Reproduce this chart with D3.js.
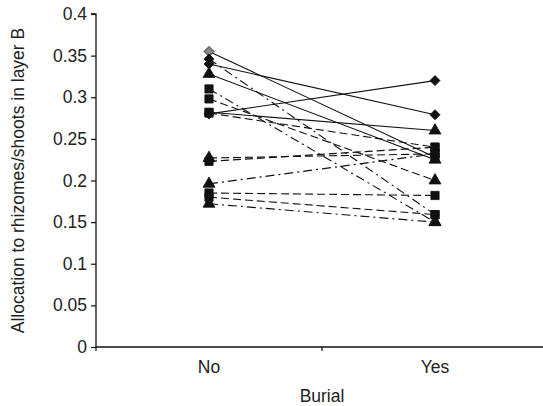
<!DOCTYPE html>
<html><head><meta charset="utf-8">
<script src="https://cdn.jsdelivr.net/npm/d3@7"></script>
<style>body{margin:0;background:#fff}svg{display:block}text{font-family:"Liberation Sans",Arial,sans-serif;fill:#222}</style>
</head><body>
<svg id="c" width="543" height="406"></svg>
<script>
const categories = ["No", "Yes"];
const yTicks = [0, 0.05, 0.1, 0.15, 0.2, 0.25, 0.3, 0.35, 0.4];
// each line: value at "No", value at "Yes"
const noValues  = [0.355, 0.340, 0.280, 0.328, 0.282, 0.346, 0.310, 0.298, 0.281, 0.223, 0.227, 0.196, 0.185, 0.180, 0.172];
const yesValues = [0.228, 0.279, 0.320, 0.225, 0.260, 0.159, 0.150, 0.200, 0.240, 0.240, 0.232, 0.232, 0.182, 0.159, 0.150];
const markerNo  = ["diamond","diamond","diamond","triangle","square","diamond","square","square","square","square","triangle","triangle","square","square","triangle"];
const markerYes = ["square","diamond","diamond","triangle","triangle","square","triangle","triangle","square","square","square","square","square","square","triangle"];
const lineGroup = ["solid","solid","solid","solid","solid","dashdot","dashdot","dashed","dashed","dashed","dashed","dashdot","dashed","dashed","dashdot"];

const svg = d3.select("#c");
const m = {left: 96, top: 14, right: -5, bottom: 59};
const W = 543, H = 406;
const FS = "17.5px";
const x = d3.scaleBand().domain(categories).range([m.left, W - m.right]);
const y = d3.scaleLinear().domain([0, 0.4]).range([H - m.bottom, m.top]);

const dash = {solid: null, dashed: "8,4", dashdot: "9,4,2,4"};
const sym = {diamond: d3.symbolSquare, square: d3.symbolSquare, triangle: d3.symbolTriangle};
const symSize = {diamond: 50, square: 68, triangle: 62};
const rot = {diamond: 45, square: 0, triangle: 0};

const cx = c => x(c) + x.bandwidth() / 2;

// lines
noValues.forEach((v, i) => {
  svg.append("line")
    .attr("x1", cx("No")).attr("y1", y(v))
    .attr("x2", cx("Yes")).attr("y2", y(yesValues[i]))
    .attr("stroke", "#111").attr("stroke-width", 1.1)
    .attr("stroke-dasharray", dash[lineGroup[i]]);
});
// markers
noValues.forEach((v, i) => {
  [[cx("No"), v, markerNo[i]], [cx("Yes"), yesValues[i], markerYes[i]]].forEach(([px, val, mk], j) => {
    svg.append("path")
      .attr("d", d3.symbol().type(sym[mk]).size(symSize[mk])())
      .attr("transform", `translate(${px},${y(val)}) rotate(${rot[mk]})`)
      .attr("fill", (i === 0 && j === 0) ? "#888" : "#111")
      .attr("stroke", "#111").attr("stroke-width", 0.8);
  });
});

// y axis
const ya = svg.append("g").attr("transform", `translate(${m.left},0)`)
  .call(d3.axisLeft(y).tickValues(yTicks).tickFormat(d => d === 0 ? "0" : String(+d.toFixed(2))).tickSize(5).tickPadding(4));
ya.select(".domain").attr("stroke", "#111").attr("stroke-width", 1.3).attr("d", `M-5,${y(0.4)}H0V${y(0)}`);
ya.selectAll(".tick line").attr("stroke", "#111").attr("stroke-width", 1.2);
ya.selectAll("text").style("font-size", FS).attr("fill", "#222");

// x axis
const xa = svg.append("g").attr("transform", `translate(0,${y(0)})`)
  .call(d3.axisBottom(x).tickSize(0));
xa.select(".domain").attr("stroke", "#111").attr("stroke-width", 1.3).attr("d", `M${m.left},0H${W}`);
xa.selectAll("text").style("font-size", FS).attr("fill", "#222").attr("dy", null).attr("y", 26);
// category boundary ticks
[m.left, x("Yes")].forEach(p => {
  xa.append("line").attr("x1", p).attr("x2", p).attr("y1", 0).attr("y2", 4).attr("stroke", "#111").attr("stroke-width", 1.2);
});

svg.append("text").attr("x", x("Yes")).attr("y", 402).attr("text-anchor", "middle").style("font-size", FS).text("Burial");
svg.append("text").attr("transform", `translate(18,${(m.top + H - m.bottom) / 2}) rotate(-90)`)
  .attr("text-anchor", "middle").attr("dy", "0.35em").style("font-size", FS).text("Allocation to rhizomes/shoots in layer B");
</script>
</body></html>
